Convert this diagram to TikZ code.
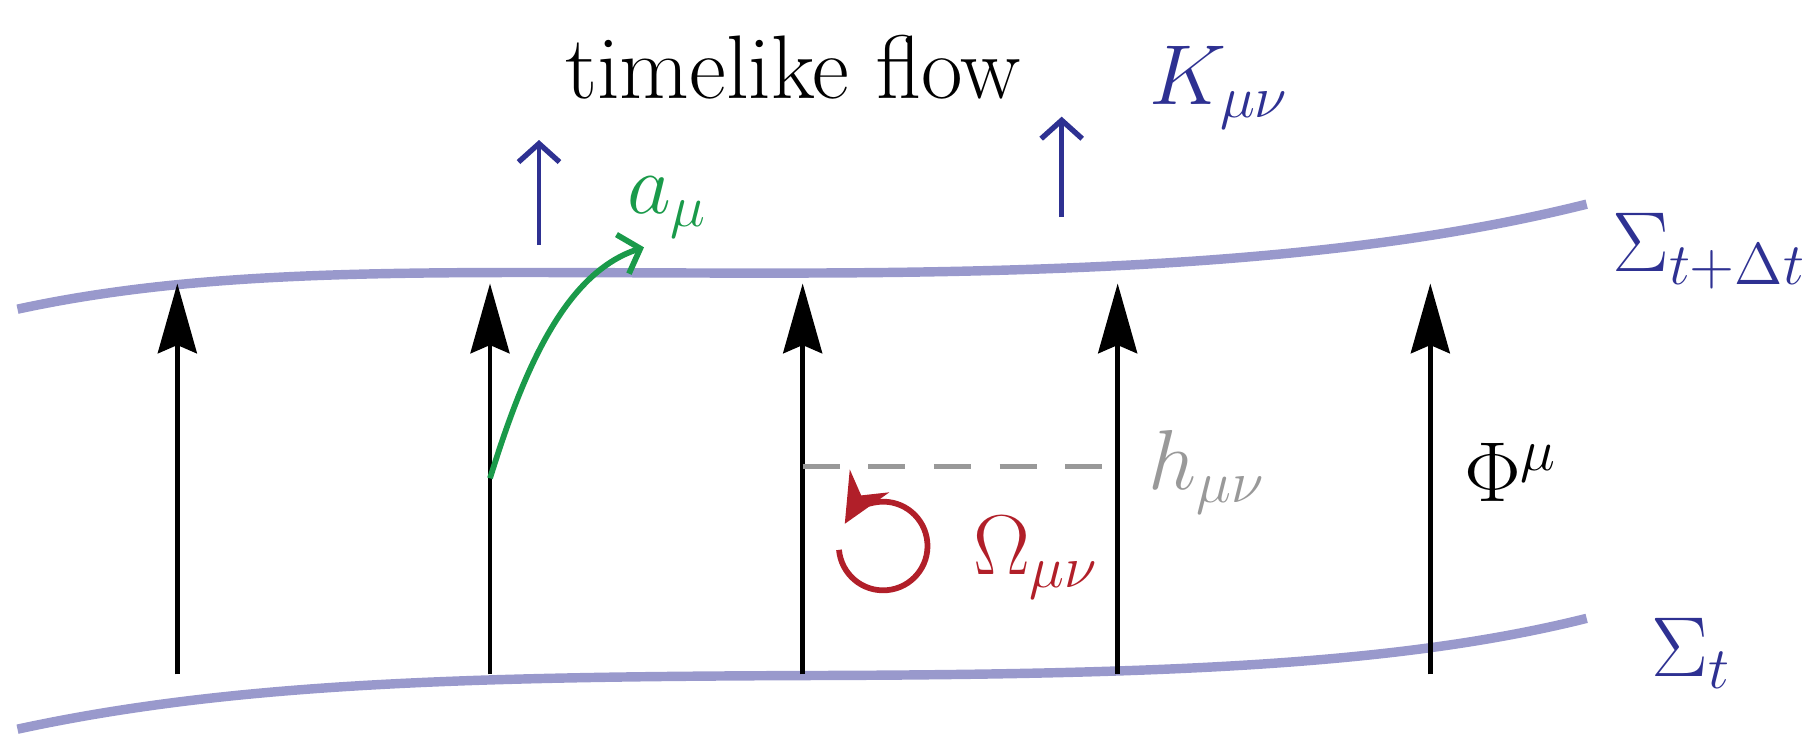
\documentclass[tikz,border=0pt]{standalone}
\usetikzlibrary{arrows.meta}
\definecolor{surf}{HTML}{9999CC}
\definecolor{dblue}{HTML}{2E3192}
\definecolor{gr}{HTML}{1A9A4A}
\definecolor{rd}{HTML}{B11F29}
\definecolor{gy}{HTML}{999999}
\tikzset{
 surface/.style={surf,line width=2.3pt},
 flow/.style={line width=1.1pt,-{Stealth[length=17pt,width=9.5pt,inset=2pt]}},
 normal/.style={dblue,line width=1.1pt,-{Straight Barb[length=4.5pt,width=10pt,line width=1.3pt]}},
 lbl/.style={font=\fontsize{22}{26}\selectfont,inner sep=0pt}
}
\begin{document}
\begin{tikzpicture}[x=0.01cm,y=-0.01cm]
\useasboundingbox (0,0) rectangle (1560,645);
% surfaces
\draw[surface] (15,265) .. controls (200,225) and (400,235) .. (700,234) .. controls (1000,233) and (1200,215) .. (1360,175);
\draw[surface] (15,625) .. controls (200,585) and (400,580) .. (700,579) .. controls (1000,578) and (1200,570) .. (1360,530);
% flow arrows
\foreach \n/\x in {1/152,2/420,3/688,4/958,5/1226}{
  \coordinate (b\n) at (\x,578);
  \coordinate (t\n) at (\x,243);
  \draw[flow] (b\n) -- (t\n);
}
% normals
\coordinate (n1a) at (462,210); \coordinate (n1b) at (462,120);
\coordinate (n2a) at (910,186); \coordinate (n2b) at (910,100);
\draw[normal] (n1a) -- (n1b);
\draw[normal] (n2a) -- (n2b);
% acceleration
\coordinate (g0) at (420,410); \coordinate (g1) at (552,212);
\draw[gr,line width=1.4pt,-{Straight Barb[length=4.5pt,width=10pt,line width=1.4pt]}] (g0) .. controls (445,330) and (480,235) .. (g1);
% projector
\coordinate (h0) at (688,400); \coordinate (h1) at (958,400);
\draw[gy,line width=1.3pt,dash pattern=on 9pt off 7pt] (h0) -- (h1);
% vorticity
\coordinate (oc) at (757,468);
\draw[rd,line width=1.4pt,-{Stealth[length=12pt,width=11pt,inset=4pt]}] ([shift={(175:38)}]oc) arc[start angle=175,end angle=-150,radius=38];
% labels
\node[lbl] (title) at (680,58) {timelike flow};
\node[lbl,dblue] (K) at (1045,75) {$K_{\mu\nu}$};
\node[lbl,dblue] (S1) at (1465,215) {$\Sigma_{t+\Delta t}$};
\node[lbl,dblue] (S0) at (1450,560) {$\Sigma_t$};
\node[lbl] (Phi) at (1295,405) {$\Phi^\mu$};
\node[lbl,gy] (h) at (1035,405) {$h_{\mu\nu}$};
\node[lbl,rd] (Om) at (888,478) {$\Omega_{\mu\nu}$};
\node[lbl,gr] (a) at (572,178) {$a_\mu$};
\end{tikzpicture}
\end{document}
